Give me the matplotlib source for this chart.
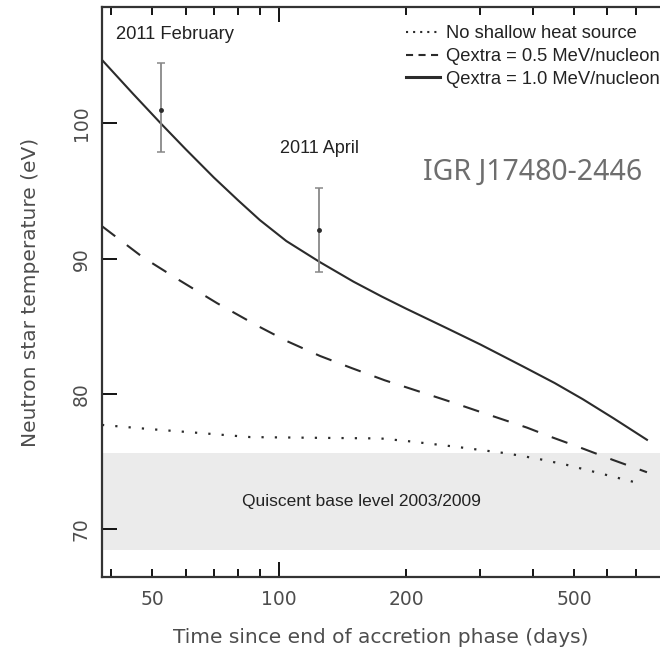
import matplotlib
matplotlib.use("Agg")
import matplotlib.pyplot as plt
from matplotlib.lines import Line2D
from matplotlib import ticker

# cooling curves (days since end of outburst, kT in eV)
solid_days = [38, 45, 52.4, 60, 70, 80, 90, 104, 124.8, 150, 175, 200, 250, 300, 380, 450, 525, 620, 745]
solid_temp = [104.7, 102.2, 100.0, 98.1, 96.0, 94.3, 92.85, 91.3, 89.75, 88.3, 87.2, 86.3,
              84.85, 83.65, 82.0, 80.8, 79.6, 78.2, 76.6]

dashed_days = [38, 47.5, 58, 71.3, 88.6, 104.3, 125, 148.7, 178, 204, 250, 304, 387, 438, 520, 620, 745]
dashed_temp = [92.4, 90.1, 88.4, 86.7, 85.05, 83.9, 82.8, 81.9, 81.0, 80.4, 79.5, 78.6, 77.5, 76.85, 76.0, 75.1, 74.2]

dotted_days = [38, 49, 65, 85.4, 120, 174, 202, 260, 346, 410, 480, 580, 710]
dotted_temp = [77.7, 77.4, 77.1, 76.8, 76.75, 76.7, 76.5, 76.1, 75.6, 75.2, 74.75, 74.1, 73.4]

# Chandra observations
obs_days = [52.4, 124.4]
obs_temp = [101.0, 92.1]
obs_err_lo = [3.1, 3.1]
obs_err_hi = [3.5, 3.15]

base_lo, base_hi = 68.45, 75.6

legend_labels = ["No shallow heat source",
                 "Qextra = 0.5 MeV/nucleon",
                 "Qextra = 1.0 MeV/nucleon"]

fig = plt.figure(figsize=(6.6, 6.52), dpi=100)
ax = fig.add_axes([0.1545, 0.115, 0.8455, 0.874])

ink = "#2b2b2b"
grey_txt = "#4d4d4d"
lab_font = "DejaVu Sans"
ann_font = "Liberation Sans"

ax.axhspan(base_lo, base_hi, color="#ebebeb", lw=0, zorder=0)

ax.plot(dotted_days, dotted_temp, color=ink, lw=1.6, dashes=(1, 5), dash_capstyle="butt")
ax.plot(dashed_days, dashed_temp, color=ink, lw=1.5, dashes=(8, 7), dash_capstyle="butt")
ax.plot(solid_days, solid_temp, color=ink, lw=1.5)

ax.errorbar(obs_days, obs_temp, yerr=[obs_err_lo, obs_err_hi], fmt="o", ms=2.5,
            color=ink, ecolor="#888888", elinewidth=1.3, capsize=3, capthick=1.1, zorder=5)

ax.set_xscale("log")
ax.set_xlim(38, 800)
ax.set_ylim(66.45, 108.6)

ax.xaxis.set_major_locator(ticker.FixedLocator([100]))
ax.xaxis.set_minor_locator(ticker.FixedLocator([40, 50, 60, 70, 80, 90, 200, 300, 400, 500, 600, 700]))
ax.xaxis.set_major_formatter(ticker.FixedFormatter(["100"]))
ax.xaxis.set_minor_formatter(ticker.FuncFormatter(
    lambda v, p: "%d" % v if int(round(v)) in (50, 200, 500) else ""))
ax.set_yticks([70, 80, 90, 100])

ax.tick_params(axis="x", which="major", direction="in", length=11, width=1.3,
               top=True, labelsize=13.5, labelcolor=grey_txt, pad=9)
ax.tick_params(axis="x", which="minor", direction="in", length=6, width=1.3,
               top=True, labelsize=13.5, labelcolor=grey_txt, pad=9)
ax.tick_params(axis="y", which="major", direction="in", length=11, width=1.3,
               labelsize=13.5, labelcolor=grey_txt, pad=8)
for lbl in ax.get_yticklabels():
    lbl.set_rotation(90)
    lbl.set_va("center")
for lbl in ax.get_xticklabels(which="both") + ax.get_yticklabels():
    lbl.set_family(lab_font)

for side in ["left", "bottom", "top"]:
    ax.spines[side].set_linewidth(1.6)
    ax.spines[side].set_color("#333333")
ax.spines["right"].set_visible(False)

ax.set_xlabel("Time since end of accretion phase (days)", fontsize=14.5,
              color=grey_txt, family=lab_font, labelpad=14)
ax.set_ylabel("Neutron star temperature (eV)", fontsize=14.5,
              color=grey_txt, family=lab_font, labelpad=23)

ax.text(41.1, 106.6, "2011 February", fontsize=13.2, family=ann_font, color="#222222",
        ha="left", va="center")
ax.text(100.6, 98.15, "2011 April", fontsize=13, family=ann_font, color="#222222",
        ha="left", va="center")
ax.text(81.7, 72.0, "Quiscent base level 2003/2009", fontsize=12.5, family=ann_font,
        color="#222222", ha="left", va="center")
ax.text(219, 96.4, "IGR J17480-2446", fontsize=20.5, family="Noto Sans", color="#6e6e6e",
        ha="left", va="center", fontweight="light")

handles = [
    Line2D([], [], color=ink, lw=1.5, dashes=(1, 2.4)),
    Line2D([], [], color=ink, lw=1.5, dashes=(3.4, 2.6)),
    Line2D([], [], color=ink, lw=2.2),
]
leg = ax.legend(handles, legend_labels, loc="upper left", bbox_to_anchor=(0.545, 0.968),
                frameon=False, borderaxespad=0, borderpad=0, handlelength=1.85,
                handletextpad=0.35, labelspacing=0.31,
                prop={"family": ann_font, "size": 13.2})
for t in leg.get_texts():
    t.set_color("#222222")

fig.savefig("out.png", dpi=100)
